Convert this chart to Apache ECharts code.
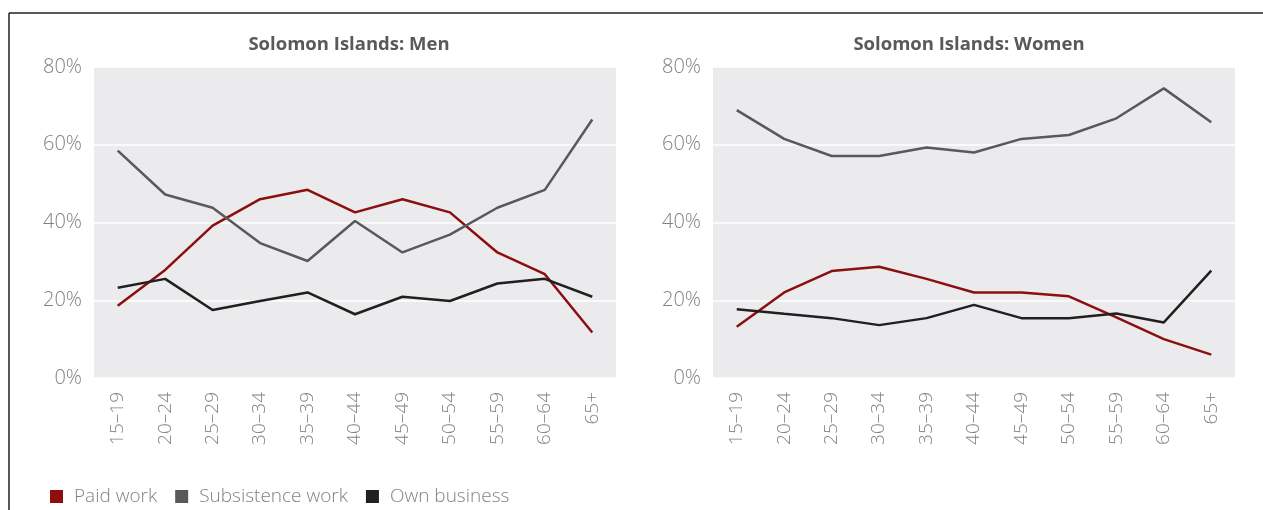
<!DOCTYPE html>
<html>
<head>
<meta charset="utf-8">
<script src="https://cdn.jsdelivr.net/npm/echarts@6/dist/echarts.min.js"></script>
<style>
  html, body { margin: 0; padding: 0; background: #fff; }
  #chart { width: 1263px; height: 510px; }
</style>
</head>
<body>
<div id="chart"></div>
<script>
// age groups
var ages = ['15–19', '20–24', '25–29', '30–34', '35–39', '40–44', '45–49', '50–54', '55–59', '60–64', '65+'];

// men (%)
var menPaid = [18.6, 27.8, 39.2, 46.0, 48.4, 42.6, 46.0, 42.6, 32.3, 26.7, 11.7];
var menSubsistence = [58.5, 47.2, 43.8, 34.7, 30.1, 40.4, 32.3, 36.9, 43.8, 48.4, 66.5];
var menBusiness = [23.2, 25.5, 17.5, 19.8, 22.0, 16.4, 20.9, 19.8, 24.3, 25.5, 20.9];

// women (%)
var womenPaid = [13.2, 22.0, 27.5, 28.6, 25.5, 22.0, 22.0, 21.0, 15.6, 10.0, 6.0];
var womenSubsistence = [68.9, 61.5, 57.1, 57.1, 59.3, 58.0, 61.5, 62.5, 66.8, 74.5, 65.8];
var womenBusiness = [17.7, 16.5, 15.4, 13.6, 15.4, 18.8, 15.4, 15.4, 16.6, 14.3, 27.6];

var titles = ['Solomon Islands: Men', 'Solomon Islands: Women'];
var seriesNames = ['Paid work', 'Subsistence work', 'Own business'];

var colors = ['#8b0f0e', '#58595b', '#231f20'];
var font = "'Open Sans', 'Noto Sans', sans-serif";
var labelGrey = '#808285';

function xAxisFor(i) {
    return {
        type: 'category',
        gridIndex: i,
        data: ages,
        boundaryGap: true,
        axisLine: { show: false },
        axisTick: { show: false },
        axisLabel: {
            rotate: 90,
            margin: 14,
            color: labelGrey,
            fontFamily: font,
            fontWeight: 300,
            fontSize: 19
        }
    };
}
function yAxisFor(i) {
    return {
        type: 'value',
        gridIndex: i,
        min: 0,
        max: 80,
        interval: 20,
        axisLine: { show: false },
        axisTick: { show: false },
        axisLabel: {
            formatter: '{value}%',
            margin: 12,
            color: labelGrey,
            fontFamily: font,
            fontWeight: 300,
            fontSize: 20
        },
        splitLine: { show: true, lineStyle: { color: '#ffffff', width: 1.5 } }
    };
}
function lineSeries(name, data, idx, color) {
    return {
        name: name,
        type: 'line',
        xAxisIndex: idx,
        yAxisIndex: idx,
        data: data,
        symbol: 'none',
        lineStyle: { color: color, width: 2.5 },
        itemStyle: { color: color },
        emphasis: { disabled: true }
    };
}

var chart = echarts.init(document.getElementById('chart'));
var option = {
    animation: false,
    title: [
        {
            text: titles[0], left: 344, top: 30, textAlign: 'center',
            textStyle: { color: '#58595b', fontFamily: font, fontWeight: 'bold', fontSize: 18.5 }
        },
        {
            text: titles[1], left: 964, top: 30, textAlign: 'center',
            textStyle: { color: '#58595b', fontFamily: font, fontWeight: 'bold', fontSize: 18.5 }
        }
    ],
    legend: {
        data: seriesNames,
        left: 45,
        top: 482,
        icon: 'rect',
        itemWidth: 13,
        itemHeight: 13,
        itemGap: 18,
        textStyle: { color: labelGrey, fontFamily: font, fontWeight: 300, fontSize: 19, padding: [0, 0, 0, 6] }
    },
    grid: [
        { left: 94, top: 67, width: 522, height: 311, show: true, backgroundColor: '#ebebed', borderWidth: 0 },
        { left: 713, top: 67, width: 522, height: 311, show: true, backgroundColor: '#ebebed', borderWidth: 0 }
    ],
    xAxis: [xAxisFor(0), xAxisFor(1)],
    yAxis: [yAxisFor(0), yAxisFor(1)],
    graphic: [
        { type: 'line', shape: { x1: 9, y1: 13, x2: 1263, y2: 13 }, style: { stroke: '#231f20', lineWidth: 1.5 } },
        { type: 'line', shape: { x1: 9, y1: 13, x2: 9, y2: 510 }, style: { stroke: '#231f20', lineWidth: 1.5 } }
    ],
    series: [
        lineSeries(seriesNames[0], menPaid, 0, colors[0]),
        lineSeries(seriesNames[1], menSubsistence, 0, colors[1]),
        lineSeries(seriesNames[2], menBusiness, 0, colors[2]),
        lineSeries(seriesNames[0], womenPaid, 1, colors[0]),
        lineSeries(seriesNames[1], womenSubsistence, 1, colors[1]),
        lineSeries(seriesNames[2], womenBusiness, 1, colors[2])
    ]
};
chart.setOption(option);
</script>
</body>
</html>
